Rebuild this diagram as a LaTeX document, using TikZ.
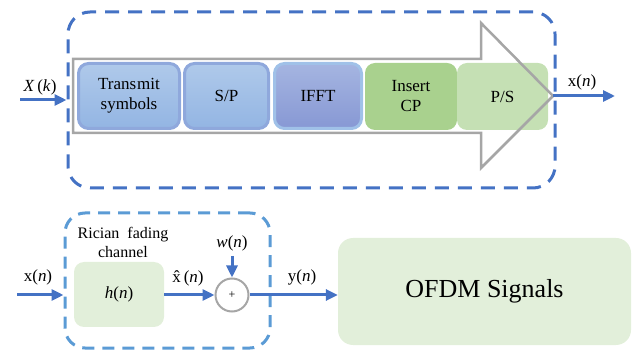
\documentclass[tikz,border=0pt]{standalone}
\usepackage{fontspec}
\setmainfont{Liberation Serif}
\newfontfamily\tnr{Liberation Serif}
\usetikzlibrary{arrows.meta}
\definecolor{arrowblue}{HTML}{4472C4}
\definecolor{dashblue}{HTML}{5B9BD5}
\definecolor{graybord}{HTML}{A6A6A6}
\definecolor{lightgreen}{HTML}{E2EFDA}
\definecolor{cpgreen}{HTML}{A9D18E}
\definecolor{psgreen}{HTML}{C5E0B4}
\definecolor{blueA}{HTML}{AFC9EA}
\definecolor{blueB}{HTML}{93B5E3}
\definecolor{blueBorder}{HTML}{8FA8DC}
\definecolor{ifftA}{HTML}{A5B5E1}
\definecolor{ifftB}{HTML}{8798D4}
\definecolor{ifftBorder}{HTML}{A0C1E8}
\begin{document}
\begin{tikzpicture}[x=1pt,y=-1pt,
  lbl/.style={font=\tnr\fontsize{17}{19}\selectfont, inner sep=0pt},
  blk/.style={rounded corners=10pt, inner sep=0pt, align=center,
    font=\tnr\fontsize{17}{20}\selectfont, minimum height=65pt},
  bluebk/.style={blk, draw=blueBorder, line width=3pt, top color=blueA, bottom color=blueB},
  ifftbk/.style={blk, draw=ifftBorder, line width=3pt, top color=ifftA, bottom color=ifftB},
  conn/.style={draw=arrowblue, line width=3pt, -{Triangle[length=12pt,width=11pt]}},
  grp/.style={rounded corners=22pt, line width=3pt, inner sep=0pt}
]
\useasboundingbox (0,0) rectangle (642,352);

% top group
\node[grp, draw=arrowblue, dash pattern=on 14pt off 9pt, minimum width=487pt, minimum height=176pt] (tx) at (311.5,100) {};

\node[bluebk, minimum width=101pt] (ts) at (129,96) {Trans\kern1pt mit\\symbols};
\node[bluebk, minimum width=84pt] (sp) at (226.5,96) {S/P};
\node[ifftbk, minimum width=87pt] (ifft) at (318,96) {IFFT};
\node[blk, fill=cpgreen, minimum width=92pt, minimum height=67pt] (cp) at (411,96.5) {Insert\\CP};
\node[blk, fill=psgreen, minimum width=91pt, minimum height=67pt] (ps) at (502.5,96.5) {P/S};

% big gray arrow
\coordinate (tip) at (553,96);
\draw[graybord, line width=2.5pt, line join=miter]
  (73,59) -- (481,59) -- (481,23) -- (tip) -- (481,168) -- (481,133) -- (73,133) -- cycle;

\coordinate (xkin) at (20,100);
\draw[conn] (xkin) -- (xkin -| tx.west);
\node[lbl] (xk) at (40,87) {\textit{X}\,(\textit{k})};

\coordinate (xout) at (615,96);
\draw[conn] (tip) -- (xout);
\node[lbl] (xnt) at (582,82) {x(\textit{n})};

% bottom group
\node[grp, rounded corners=20pt, draw=dashblue, dash pattern=on 12pt off 8pt, minimum width=205pt, minimum height=135pt] (chan) at (167.5,280.5) {};
\node[lbl, align=center, font=\tnr\fontsize{16}{19}\selectfont] (rician) at (123,242) {Rician\ \ fading\\channel};
\node[blk, fill=lightgreen, minimum width=90pt, minimum height=65pt] (h) at (119,294.5) {\textit{h}(\textit{n})};
\node[circle, draw=graybord, line width=2pt, minimum size=33pt, inner sep=0pt, font=\tnr\fontsize{12}{13}\selectfont] (sum) at (232,295) {+};
\node[blk, fill=lightgreen, rounded corners=15pt, minimum width=293pt, minimum height=107pt, font=\tnr\fontsize{26}{29}\selectfont] (ofdm) at (484.5,291.5) {OFDM Signals};

\coordinate (xin2) at (17,295);
\draw[conn] (xin2) -- (xin2 -| chan.west);
\node[lbl] (xnb) at (38,277) {x(\textit{n})};

\draw[conn] (h.east |- sum.west) -- (sum.west);
\node[lbl] (xhat) at (188,278) {\^{x}\,(\textit{n})};

\node[lbl] (wn) at (232,243) {\textit{w}(\textit{n})};
\draw[conn] (232,256) -- (sum.north);

\draw[conn] (sum.east) -- (sum.east -| ofdm.west);
\node[lbl] (yn) at (302,277) {y(\textit{n})};
\end{tikzpicture}
\end{document}
